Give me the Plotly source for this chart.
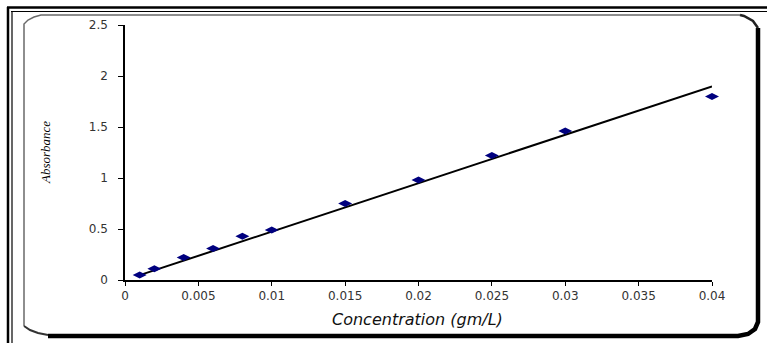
import numpy as np
import plotly.graph_objects as go

# Data
concentration = [0.001, 0.002, 0.004, 0.006, 0.008, 0.010, 0.015, 0.020, 0.025, 0.030, 0.040]
absorbance = [0.05, 0.11, 0.22, 0.31, 0.43, 0.49, 0.75, 0.98, 1.22, 1.46, 1.80]

x_title = "Concentration (gm/L)"
y_title = "Absorbance"

W, H = 767, 343
ML, MR, MT, MB = 125, 55, 25, 63
PW = W - ML - MR
PH = H - MT - MB


def px(x):
    return (x - ML) / PW


def py(y):
    return (H - MB - y) / PH


# Linear trendline through the origin (least squares over the data range)
cx = np.array(concentration)
ay = np.array(absorbance)
slope = float((cx * ay).sum() / (cx * cx).sum())
trend_x = [float(cx.min()), float(cx.max())]
trend_y = [slope * v for v in trend_x]

fig = go.Figure()
fig.add_trace(go.Scatter(
    x=trend_x, y=trend_y, mode="lines",
    line=dict(color="#000000", width=2),
    hoverinfo="skip", showlegend=False, cliponaxis=False,
))
fig.add_trace(go.Scatter(
    x=concentration, y=absorbance, mode="markers",
    marker=dict(symbol="diamond-wide", size=10, color="#00007f",
                line=dict(width=0)),
    showlegend=False, cliponaxis=False,
))

shapes = []
# outer double border (top and left)
shapes.append(dict(type="line", xref="paper", yref="paper",
                   x0=px(7), x1=px(W + 5), y0=py(7.5), y1=py(7.5),
                   line=dict(color="#000", width=2.5)))
shapes.append(dict(type="line", xref="paper", yref="paper",
                   x0=px(11), x1=px(W + 5), y0=py(11.5), y1=py(11.5),
                   line=dict(color="#000", width=1.2)))
shapes.append(dict(type="line", xref="paper", yref="paper",
                   x0=px(8), x1=px(8), y0=py(7), y1=py(H + 5),
                   line=dict(color="#000", width=2.5)))
shapes.append(dict(type="line", xref="paper", yref="paper",
                   x0=px(12), x1=px(12), y0=py(11), y1=py(H + 5),
                   line=dict(color="#000", width=1.2)))


def path(points):
    s = "M {} {}".format(px(points[0][0]), py(points[0][1]))
    for (a, b) in points[1:]:
        s += " L {} {}".format(px(a), py(b))
    return s


# rounded inner frame: grey top/left, black shadow right/bottom
grey_pts = [(24, 326), (24, 24), (28, 20), (34, 17), (41, 15), (740, 15)]
shapes.append(dict(type="path", xref="paper", yref="paper",
                   path=path(grey_pts),
                   line=dict(color="#6a6a6a", width=1.5)))
left_bottom_curve = [(24, 326), (30, 330), (38, 333), (48, 335)]
shapes.append(dict(type="path", xref="paper", yref="paper",
                   path=path(left_bottom_curve),
                   line=dict(color="#333", width=2)))
black_pts = [(48, 336), (738, 336), (748, 334), (755, 329), (758, 322),
             (758, 28), (753, 21), (744, 16), (740, 15)]
shapes.append(dict(type="path", xref="paper", yref="paper",
                   path=path(black_pts[:6]),
                   line=dict(color="#000", width=4.5)))
shapes.append(dict(type="path", xref="paper", yref="paper",
                   path=path(black_pts[5:]),
                   line=dict(color="#222", width=2.5)))

annotations = [
    dict(text=x_title, xref="paper", yref="paper", x=px(417), y=py(319),
         xanchor="center", yanchor="middle", showarrow=False,
         font=dict(family="DejaVu Sans", size=16, color="#111", style="italic")),
    dict(text=y_title, xref="paper", yref="paper", x=px(45), y=py(153),
         xanchor="center", yanchor="middle", showarrow=False, textangle=-90,
         font=dict(family="Liberation Serif", size=13, color="#000", style="italic")),
]

fig.update_layout(
    width=W, height=H,
    margin=dict(l=ML, r=MR, t=MT, b=MB, pad=0),
    paper_bgcolor="#ffffff", plot_bgcolor="#ffffff",
    shapes=shapes, annotations=annotations,
    showlegend=False,
    font=dict(family="DejaVu Sans", size=12, color="#333"),
)
fig.update_xaxes(
    range=[0, 0.04], tickmode="linear", tick0=0, dtick=0.005,
    showgrid=False, zeroline=False,
    showline=True, linecolor="#000", linewidth=1.5,
    ticks="outside", ticklen=4, tickcolor="#000", tickwidth=1,
    tickfont=dict(family="DejaVu Sans", size=12, color="#333"),
)
fig.update_yaxes(
    range=[0, 2.5], tickmode="linear", tick0=0, dtick=0.5,
    showgrid=False, zeroline=False,
    showline=True, linecolor="#000", linewidth=1.5,
    ticks="outside", ticklen=5, tickcolor="#000", tickwidth=1,
    ticklabelstandoff=8,
    tickfont=dict(family="DejaVu Sans", size=12, color="#333"),
)

fig.write_html("out.html")
